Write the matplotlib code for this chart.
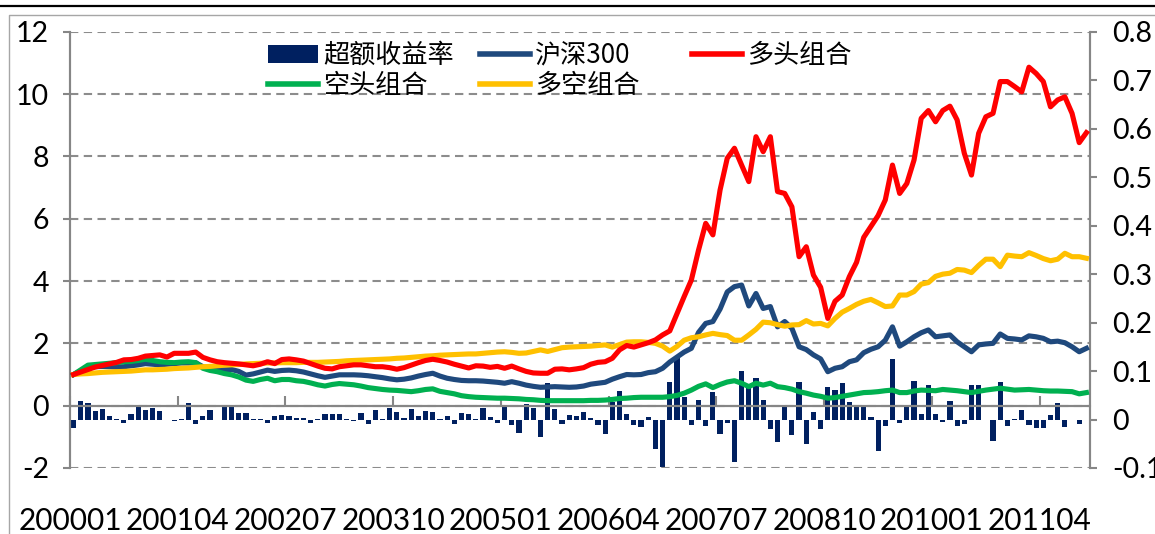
import numpy as np
import matplotlib
matplotlib.use("Agg")
import matplotlib.pyplot as plt
from matplotlib.lines import Line2D
from matplotlib.patches import Patch
from matplotlib.ticker import FormatStrFormatter, FuncFormatter

plt.rcParams['axes.unicode_minus'] = False
plt.rcParams['font.family'] = ['Lato', 'Noto Sans CJK SC', 'DejaVu Sans']

# ---------------- data ----------------
tick_labels = ['200001', '200104', '200207', '200310', '200501',
               '200604', '200707', '200810', '201001', '201104']
tick_step = 15

excess = [-0.017, 0.039, 0.034, 0.018, 0.021, 0.008, 0.002, -0.008, 0.011, 0.025,
          0.019, 0.023, 0.017, -0.001, -0.003, 0.001, 0.034, -0.01, 0.007, 0.019,
          -0.001, 0.026, 0.029, 0.014, 0.014, 0.002, 0.002,
          -0.007, 0.007, 0.01, 0.007, 0.004, 0.004, -0.007, 0.002, 0.011, 0.011,
          0.011, 0.002, -0.003, 0.014, -0.01, 0.019, 0.001, 0.023, 0.016, 0.004,
          0.021, 0.008, 0.017, 0.015, 0.001, 0.007,
          -0.01, 0.014, 0.012, 0.002, 0.023, 0.006, -0.008, 0.026, -0.012, -0.028,
          0.033, 0.023, -0.037, 0.076, 0.021, -0.01, 0.009, 0.007, 0.016, 0.004,
          -0.012, -0.029, 0.036, 0.059, 0.012, -0.012,
          -0.015, 0.006, -0.06, -0.098, 0.078, 0.13, 0.047, -0.012, 0.04, -0.014,
          0.057, -0.029, -0.008, -0.087, 0.1, 0.074, 0.085, 0.04, -0.019, -0.046,
          0.026, -0.032, 0.078, -0.05, 0.016, -0.019, 0.067,
          0.06, 0.076, 0.036, 0.026, 0.026, 0.006, -0.065, -0.014, 0.124, -0.008,
          0.026, 0.079, 0.011, 0.071, 0.012, -0.005, 0.039, -0.013, -0.01,
          0.071, 0.071, -0.001, -0.044, 0.078, -0.013, 0.002, 0.019, -0.012, -0.017,
          -0.017, 0.009, 0.035, -0.015, -0.001, -0.01, -0.002]

hs300 = [1.00, 1.12, 1.22, 1.25, 1.26, 1.25, 1.24, 1.25, 1.28, 1.31, 1.35, 1.33, 1.31,
         1.33, 1.35, 1.37, 1.37, 1.38, 1.25, 1.2, 1.15, 1.15, 1.16, 1.1, 0.98, 1.02,
         1.08, 1.14, 1.1, 1.13, 1.14, 1.12, 1.08, 1.02, 0.96, 0.91, 0.95, 0.99, 0.99,
         0.99, 0.98, 0.96, 0.93, 0.9, 0.86, 0.83, 0.85, 0.89, 0.95, 1.0, 1.04, 0.95, 0.88,
         0.84, 0.81, 0.8, 0.8, 0.79, 0.77, 0.75, 0.72, 0.77, 0.72, 0.66, 0.62, 0.59, 0.6,
         0.61, 0.6, 0.59, 0.6, 0.63, 0.69, 0.72, 0.75, 0.85, 0.93, 1.0, 0.99, 1.0,
         1.06, 1.09, 1.2, 1.4, 1.56, 1.72, 1.84, 2.35, 2.64, 2.7, 3.1, 3.65, 3.82, 3.87,
         3.2, 3.6, 3.12, 3.18, 2.53, 2.7, 2.48, 1.89, 1.8, 1.63, 1.5, 1.09,
         1.2, 1.25, 1.41, 1.47, 1.7, 1.81, 1.89, 2.1, 2.53, 1.91, 2.05, 2.21, 2.34, 2.43,
         2.21, 2.24, 2.27, 2.05, 1.89, 1.73, 1.95, 1.98, 2.0, 2.3, 2.16, 2.14, 2.11, 2.24,
         2.21, 2.16, 2.05, 2.07, 2.02, 1.89, 1.73, 1.84]

long_port = [1.00, 1.08, 1.16, 1.24, 1.29, 1.34, 1.39, 1.47, 1.48, 1.52, 1.59, 1.61, 1.63,
             1.56, 1.68, 1.68, 1.68, 1.72, 1.55, 1.47, 1.41, 1.38, 1.36, 1.34, 1.31, 1.28, 1.33,
             1.41, 1.35, 1.48, 1.5, 1.47, 1.43, 1.35, 1.27, 1.2, 1.18, 1.25, 1.28, 1.31, 1.31,
             1.28, 1.25, 1.25, 1.22, 1.17, 1.22, 1.3, 1.38, 1.45, 1.49, 1.45, 1.4,
             1.33, 1.27, 1.21, 1.28, 1.27, 1.23, 1.26, 1.2, 1.27, 1.18, 1.1, 1.05, 1.04, 1.04,
             1.17, 1.18, 1.15, 1.18, 1.22, 1.33, 1.39, 1.41, 1.52, 1.79,
             1.93, 1.88, 1.95, 2.02, 2.11, 2.27, 2.4, 2.95, 3.5, 4.03, 4.99, 5.85, 5.48, 6.92,
             7.94, 8.26, 7.72, 7.19, 8.63, 8.15, 8.63, 6.87, 6.81, 6.38, 4.78, 5.1, 4.19, 3.8, 2.8,
             3.35, 3.55, 4.14, 4.6, 5.4, 5.75, 6.1, 6.6, 7.72, 6.81, 7.13, 7.88, 9.22, 9.47,
             9.11, 9.47, 9.61, 9.17, 8.1, 7.4, 8.74, 9.27, 9.38, 10.4, 10.4, 10.24, 10.07, 10.86,
             10.66, 10.4, 9.59, 9.81, 9.91, 9.38, 8.44, 8.76]

short_port = [1.0, 1.15, 1.3, 1.32, 1.34, 1.36, 1.38, 1.41, 1.42, 1.45, 1.49, 1.45, 1.41,
              1.39, 1.38, 1.40, 1.41, 1.38, 1.2, 1.13, 1.09, 1.03, 0.99, 0.92, 0.82, 0.78, 0.84,
              0.88, 0.8, 0.84, 0.84, 0.8, 0.78, 0.73, 0.67, 0.63, 0.68, 0.71, 0.69, 0.67, 0.63,
              0.58, 0.55, 0.52, 0.5, 0.49, 0.47, 0.45, 0.48, 0.52, 0.54, 0.46, 0.42,
              0.38, 0.32, 0.29, 0.27, 0.26, 0.25, 0.24, 0.24, 0.23, 0.22, 0.2, 0.19, 0.17, 0.16,
              0.16, 0.16, 0.16, 0.16, 0.16, 0.17, 0.17, 0.18, 0.2, 0.23, 0.24, 0.26, 0.27,
              0.27, 0.27, 0.27, 0.29, 0.33, 0.4, 0.5, 0.62, 0.7, 0.58, 0.68, 0.76, 0.8, 0.72,
              0.61, 0.72, 0.66, 0.72, 0.61, 0.58, 0.53, 0.45, 0.4, 0.34, 0.3, 0.24,
              0.26, 0.3, 0.34, 0.38, 0.42, 0.43, 0.45, 0.48, 0.5, 0.42, 0.42, 0.47, 0.5, 0.49,
              0.48, 0.52, 0.5, 0.48, 0.45, 0.42, 0.46, 0.5, 0.53, 0.56, 0.53, 0.5, 0.51, 0.52,
              0.5, 0.48, 0.47, 0.47, 0.46, 0.45, 0.38, 0.42]

long_short = [1.0, 1.02, 1.03, 1.05, 1.07, 1.08, 1.09, 1.10, 1.11, 1.13, 1.15, 1.15, 1.16,
              1.17, 1.19, 1.2, 1.21, 1.23, 1.25, 1.26, 1.28, 1.30, 1.31, 1.32, 1.34, 1.35,
              1.36, 1.37, 1.37, 1.38, 1.38, 1.38, 1.39, 1.39, 1.39, 1.4, 1.41, 1.42, 1.44,
              1.45, 1.46, 1.47, 1.48, 1.49, 1.5, 1.52, 1.53, 1.55, 1.57, 1.59, 1.6, 1.62, 1.63,
              1.64, 1.65, 1.66, 1.66, 1.68, 1.7, 1.72, 1.73, 1.71, 1.68, 1.69, 1.74, 1.79, 1.74,
              1.8, 1.86, 1.88, 1.89, 1.9, 1.91, 1.93, 1.95, 1.88, 1.96, 2.04, 2.05, 2.05,
              2.03, 2.0, 1.91, 1.75, 1.9, 2.1, 2.18, 2.21, 2.27, 2.32, 2.28, 2.25, 2.1, 2.1,
              2.27, 2.45, 2.68, 2.66, 2.6, 2.55, 2.59, 2.6, 2.73, 2.62, 2.64, 2.56,
              2.8, 3.0, 3.12, 3.25, 3.35, 3.41, 3.3, 3.18, 3.2, 3.55, 3.55, 3.66, 3.9, 3.95,
              4.15, 4.22, 4.25, 4.37, 4.35, 4.27, 4.5, 4.7, 4.7, 4.46, 4.83, 4.8, 4.78, 4.91,
              4.82, 4.72, 4.65, 4.7, 4.89, 4.78, 4.78, 4.73]

names = ['超额收益率', '沪深300', '多头组合', '空头组合', '多空组合']

# ---------------- style ----------------
C_BAR = '#002060'
C_HS = '#1F497D'
C_LONG = '#FF0000'
C_SHORT = '#00B050'
C_LS = '#FFC000'
C_AX = '#868686'
C_GRID = '#8C8C8C'

W, H = 1155, 534
fig = plt.figure(figsize=(W / 100, H / 100), dpi=100)
L, R, T, B = 70, 1090, 31.7, 468
ax = fig.add_axes([L / W, 1 - B / H, (R - L) / W, (B - T) / H])
ax2 = ax.twinx()
ax.set_zorder(2)
ax2.set_zorder(1)
ax.patch.set_visible(False)

n = len(long_port)
x = np.arange(n) + 0.5

# bars on secondary axis
ax2.bar(np.arange(len(excess)) + 0.5, excess, width=0.72, color=C_BAR, zorder=2)
ax2.set_ylim(-0.1, 0.8)
ax2.set_yticks(np.arange(-0.1, 0.81, 0.1))
ax2.yaxis.set_major_formatter(FuncFormatter(lambda v, p: f'{v:.1f}'.rstrip('0').rstrip('.') if abs(v) > 1e-9 else '0'))

# lines on primary axis
lw = 3.7
ax.plot(x, hs300, color=C_HS, lw=lw, zorder=3)
ax.plot(x, short_port, color=C_SHORT, lw=lw, zorder=3)
ax.plot(x, long_short, color=C_LS, lw=lw, zorder=3)
ax.plot(x, long_port, color=C_LONG, lw=lw, zorder=4)

ax.set_xlim(0, n)
ax.set_ylim(-2, 12)
ax.set_yticks(np.arange(-2, 12.1, 2))
ax.yaxis.set_major_formatter(FormatStrFormatter('%d'))

# grid
ax.grid(axis='y', color=C_GRID, lw=1.5, ls=(0, (4, 2.6)), zorder=0)
ax.grid(axis='x', visible=False)
ax.axhline(0, color=C_AX, lw=1.5, zorder=1)

# spines
for a in (ax, ax2):
    a.spines['top'].set_visible(False)
    a.spines['left'].set_color(C_AX)
    a.spines['right'].set_color(C_AX)
    a.spines['left'].set_linewidth(1.5)
    a.spines['right'].set_linewidth(1.5)
ax2.spines['bottom'].set_visible(False)
ax.spines['bottom'].set_position(('data', 0))
ax.spines['bottom'].set_color(C_AX)
ax.spines['bottom'].set_linewidth(1.5)

ax.set_xticks(np.arange(0, n, tick_step))
ax.set_xticklabels(tick_labels)
ax.tick_params(axis='x', direction='in', length=7.5, width=1.5, color=C_AX,
               pad=73, labelsize=21.5)
ax.tick_params(axis='y', direction='out', length=5, width=1.5, color=C_AX,
               pad=10, labelsize=20.5)
ax2.tick_params(axis='y', direction='out', length=5, width=1.5, color=C_AX,
                pad=11, labelsize=20.5)

# legend (three columns)
cjk = ['Noto Sans CJK SC', 'DejaVu Sans']
h_bar = Patch(facecolor=C_BAR, edgecolor='none')
h_hs = Line2D([], [], color=C_HS, lw=lw + 0.3)
h_long = Line2D([], [], color=C_LONG, lw=lw + 0.3)
h_short = Line2D([], [], color=C_SHORT, lw=lw + 0.3)
h_ls = Line2D([], [], color=C_LS, lw=lw + 0.3)
legkw = dict(frameon=False, loc='upper left', borderpad=0, borderaxespad=0,
             handlelength=1.9, handletextpad=0.2, labelspacing=0.12,
             prop={'family': cjk, 'size': 18.8})
top_frac = 1 - 42 / H
fig.legend([h_bar, h_short], [names[0], names[3]], bbox_to_anchor=(268 / W, top_frac), **legkw)
fig.legend([h_hs, h_ls], [names[1], names[4]], bbox_to_anchor=(480 / W, top_frac), **legkw)
fig.legend([h_long], [names[2]], bbox_to_anchor=(692 / W, top_frac), **legkw)

# outer decorations
fig.add_artist(Line2D([0, 1], [1 - 6 / H, 1 - 6 / H], transform=fig.transFigure, color='black', lw=1.6))
fig.add_artist(Line2D([9 / W, 9 / W, 1], [0, 1 - 15 / H, 1 - 15 / H], transform=fig.transFigure,
                      color='#A6A6A6', lw=1.0))

fig.savefig('out.png', dpi=100)
